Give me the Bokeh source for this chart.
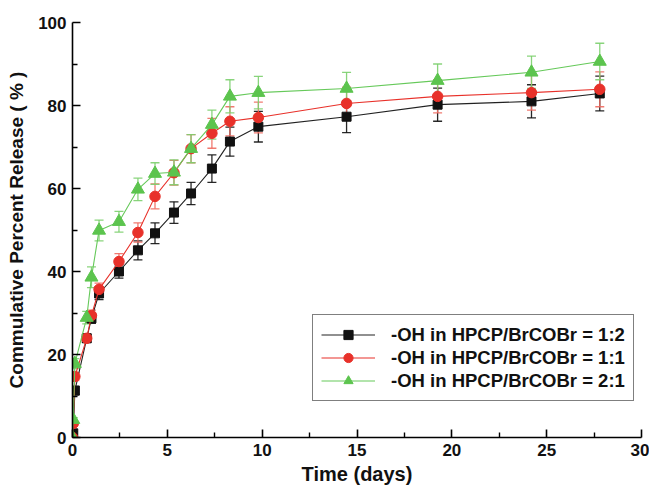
from bokeh.plotting import figure
from bokeh.models import ColumnDataSource, Whisker, TeeHead, Legend, LegendItem, FixedTicker
from bokeh.embed import file_html
from bokeh.resources import INLINE

# Time points (days)
time_days = [0, 0.04, 0.125, 0.75, 1.0, 1.4, 2.45, 3.45, 4.35, 5.35, 6.25, 7.35, 8.3, 9.8, 14.45, 19.25, 24.2, 27.8]

# Series: -OH in HPCP/BrCOBr = 1:2 (black squares)
rel_12 = [0, 1.0, 11.3, 23.9, 28.7, 34.7, 40.0, 45.1, 49.2, 54.2, 58.8, 64.8, 71.3, 74.9, 77.3, 80.2, 81.0, 82.9]
err_12 = [0, 0.5, 1.0, 1.0, 1.2, 1.5, 1.6, 2.3, 2.5, 2.6, 2.7, 3.3, 3.5, 3.7, 3.85, 4.0, 4.0, 4.2]

# Series: 1:1 (red circles)
rel_11 = [0, 3.4, 14.7, 23.9, 29.4, 35.7, 42.4, 49.4, 58.1, 63.8, 69.6, 73.3, 76.2, 77.1, 80.5, 82.2, 83.1, 83.9]
err_11 = [0, 0.5, 1.0, 1.0, 1.3, 1.5, 1.9, 2.3, 3.0, 3.0, 3.4, 3.6, 3.5, 3.7, 3.9, 4.0, 4.2, 4.2]

# Series: 2:1 (green triangles)
rel_21 = [0, 4.3, 17.8, 28.9, 38.6, 49.9, 52.0, 59.8, 63.6, 63.9, 69.6, 75.4, 82.2, 83.1, 84.1, 86.0, 88.0, 90.6]
err_21 = [0, 0.5, 1.2, 1.5, 2.5, 2.5, 2.5, 2.7, 2.6, 3.0, 3.4, 3.5, 4.0, 3.9, 3.9, 4.0, 3.9, 4.4]

labels = ["-OH in HPCP/BrCOBr = 1:2", "-OH in HPCP/BrCOBr = 1:1", "-OH in HPCP/BrCOBr = 2:1"]
x_ticks = [0, 5, 10, 15, 20, 25, 30]
y_ticks = [0, 20, 40, 60, 80, 100]

FONT = "Liberation Sans"

p = figure(frame_width=569, frame_height=415, x_range=(0, 30), y_range=(0, 100),
           output_backend="svg", toolbar_location=None,
           min_border_left=72, min_border_top=22, min_border_right=8, min_border_bottom=40)
p.grid.visible = False
p.outline_line_color = None
p.background_fill_color = "white"

for ax in (p.xaxis[0], p.yaxis[0]):
    ax.axis_line_width = 1.6
    ax.axis_line_color = "black"
    ax.major_tick_in = 8
    ax.major_tick_out = 0
    ax.minor_tick_in = 5
    ax.minor_tick_out = 0
    ax.major_tick_line_width = 1.6
    ax.minor_tick_line_width = 1.4
    ax.major_label_text_font = FONT
    ax.major_label_text_font_style = "bold"
    ax.major_label_text_font_size = "17px"
    ax.major_label_text_color = "#111111"
    ax.axis_label_text_font = FONT
    ax.axis_label_text_font_style = "bold"
    ax.axis_label_text_color = "#111111"
    ax.major_label_standoff = 6

p.xaxis[0].ticker = FixedTicker(ticks=x_ticks, minor_ticks=[2.5, 7.5, 12.5, 17.5, 22.5, 27.5])
p.yaxis[0].ticker = FixedTicker(ticks=y_ticks, minor_ticks=[10, 30, 50, 70, 90])
p.xaxis[0].axis_label = "Time (days)"
p.xaxis[0].axis_label_text_font_size = "20px"
p.xaxis[0].axis_label_standoff = 4
p.yaxis[0].axis_label = "Commulative Percent Release ( % )"
p.yaxis[0].axis_label_text_font_size = "19px"
p.yaxis[0].axis_label_standoff = 8

series = [
    (rel_12, err_12, "#111111", "#222222", "square", 9, "#111111"),
    (rel_11, err_11, "#e8312a", "#e8312a", "circle", 10.5, "#ee6a60"),
    (rel_21, err_21, "#5cc44e", "#66c95a", "triangle", 13, "#7ccf6e"),
]

items = []
for (vals, errs, mcol, lcol, marker, size, ecol), lab in zip(series, labels):
    src = ColumnDataSource(dict(t=time_days, v=vals,
                                up=[a + b for a, b in zip(vals, errs)],
                                lo=[a - b for a, b in zip(vals, errs)]))
    lr = p.line("t", "v", source=src, line_color=lcol, line_width=1.1)
    sr = p.scatter("t", "v", source=src, marker=marker, size=size,
                   fill_color=mcol, line_color=mcol)
    w = Whisker(base="t", upper="up", lower="lo", source=src, dimension="height",
                line_color=ecol, line_width=1.3, line_alpha=0.9,
                upper_head=TeeHead(size=9, line_color=ecol, line_width=1.3, line_alpha=0.9),
                lower_head=TeeHead(size=9, line_color=ecol, line_width=1.3, line_alpha=0.9))
    p.add_layout(w)
    items.append(LegendItem(label=lab, renderers=[lr, sr]))

legend = Legend(items=items, location=(240, 36))
legend.label_text_font = FONT
legend.label_text_font_style = "bold"
legend.label_text_font_size = "18.5px"
legend.label_text_color = "#111111"
legend.border_line_color = "black"
legend.border_line_width = 1.5
legend.background_fill_alpha = 1
legend.padding = 8
legend.margin = 0
legend.spacing = 0
legend.glyph_width = 54
legend.glyph_height = 23
legend.label_height = 20
legend.label_standoff = 16
p.add_layout(legend, "center")

open("out.html", "w").write(file_html(p, INLINE))
